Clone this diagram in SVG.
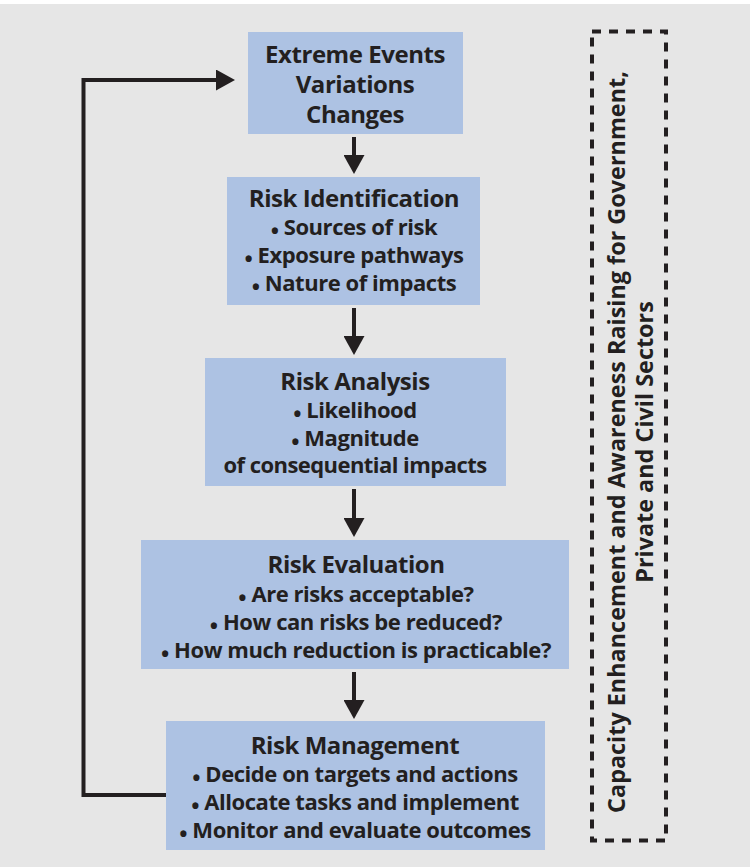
<svg xmlns="http://www.w3.org/2000/svg" width="751" height="867" viewBox="0 0 751 867">
  <style>
    .bg { fill: #e6e6e6; }
    .box { fill: #adc2e3; }
    .t { font-family: "Open Sans", "Liberation Sans", sans-serif; font-weight: bold; font-size: 24px; letter-spacing: -0.45px; fill: #231f20; text-anchor: middle; }
    .b { font-family: "Open Sans", "Liberation Sans", sans-serif; font-weight: bold; font-size: 22px; letter-spacing: -0.45px; fill: #231f20; text-anchor: middle; }
    .side { font-family: "Open Sans", "Liberation Sans", sans-serif; font-weight: bold; font-size: 23.4px; fill: #231f20; text-anchor: middle; }
    .conn { fill: none; stroke: #231f20; stroke-width: 4; }
    .frame { fill: none; stroke: #231f20; stroke-width: 4; stroke-dasharray: 9 8; }
  </style>
  <defs>
    <marker id="head" viewBox="0 0 19 21" refX="0" refY="10.5" markerWidth="19" markerHeight="21" markerUnits="userSpaceOnUse" orient="auto">
      <path d="M0,0 L19,10.5 L0,21 Z" fill="#231f20"/>
    </marker>
  </defs>

  <rect width="751" height="867" fill="#ffffff"/>
  <rect class="bg" x="0" y="4" width="750" height="863"/>

  <!-- connectors -->
  <g id="connectors">
    <line class="conn" x1="354" y1="137" x2="354" y2="155" marker-end="url(#head)"/>
    <line class="conn" x1="354" y1="308" x2="354" y2="336" marker-end="url(#head)"/>
    <line class="conn" x1="354" y1="489" x2="354" y2="518" marker-end="url(#head)"/>
    <line class="conn" x1="354" y1="672" x2="354" y2="700" marker-end="url(#head)"/>
    <path class="conn" d="M166,795 H83.5 V80 H216" marker-end="url(#head)"/>
  </g>

  <!-- drivers -->
  <g id="events">
    <rect class="box" x="248" y="32" width="215" height="102"/>
    <text class="t" x="355" y="63">Extreme Events</text>
    <text class="t" x="355" y="93">Variations</text>
    <text class="t" x="355" y="123">Changes</text>
  </g>

  <g id="identification">
    <rect class="box" x="227" y="177" width="253" height="128"/>
    <text class="t" x="354" y="207">Risk Identification</text>
    <text class="b" x="354" y="235"><tspan dy="4">•</tspan><tspan dy="-4"> Sources of risk</tspan></text>
    <text class="b" x="354" y="263"><tspan dy="4">•</tspan><tspan dy="-4"> Exposure pathways</tspan></text>
    <text class="b" x="354" y="291"><tspan dy="4">•</tspan><tspan dy="-4"> Nature of impacts</tspan></text>
  </g>

  <g id="analysis">
    <rect class="box" x="205" y="358" width="301" height="128"/>
    <text class="t" x="355" y="390">Risk Analysis</text>
    <text class="b" x="355" y="418"><tspan dy="4">•</tspan><tspan dy="-4"> Likelihood</tspan></text>
    <text class="b" x="355" y="446"><tspan dy="4">•</tspan><tspan dy="-4"> Magnitude</tspan></text>
    <text class="b" x="355" y="473" style="letter-spacing:-0.55px">of consequential impacts</text>
  </g>

  <g id="evaluation">
    <rect class="box" x="141" y="540" width="428" height="129"/>
    <text class="t" x="356" y="573">Risk Evaluation</text>
    <text class="b" x="356" y="602"><tspan dy="4">•</tspan><tspan dy="-4"> Are risks acceptable?</tspan></text>
    <text class="b" x="356" y="630"><tspan dy="4">•</tspan><tspan dy="-4"> How can risks be reduced?</tspan></text>
    <text class="b" x="356" y="658"><tspan dy="4">•</tspan><tspan dy="-4"> How much reduction is practicable?</tspan></text>
  </g>

  <g id="management">
    <rect class="box" x="166" y="721" width="379" height="129"/>
    <text class="t" x="355" y="754">Risk Management</text>
    <text class="b" x="355" y="782"><tspan dy="4">•</tspan><tspan dy="-4"> Decide on targets and actions</tspan></text>
    <text class="b" x="355" y="810"><tspan dy="4">•</tspan><tspan dy="-4"> Allocate tasks and implement</tspan></text>
    <text class="b" x="355" y="838"><tspan dy="4">•</tspan><tspan dy="-4"> Monitor and evaluate outcomes</tspan></text>
  </g>

  <!-- enabling frame running alongside the cycle -->
  <g id="capacity">
    <rect class="frame" x="592" y="31.5" width="74" height="809"/>
    <text class="side" transform="translate(625,442) rotate(-90)">Capacity Enhancement and Awareness Raising for Government,</text>
    <text class="side" transform="translate(653,442) rotate(-90)">Private and Civil Sectors</text>
  </g>
</svg>
